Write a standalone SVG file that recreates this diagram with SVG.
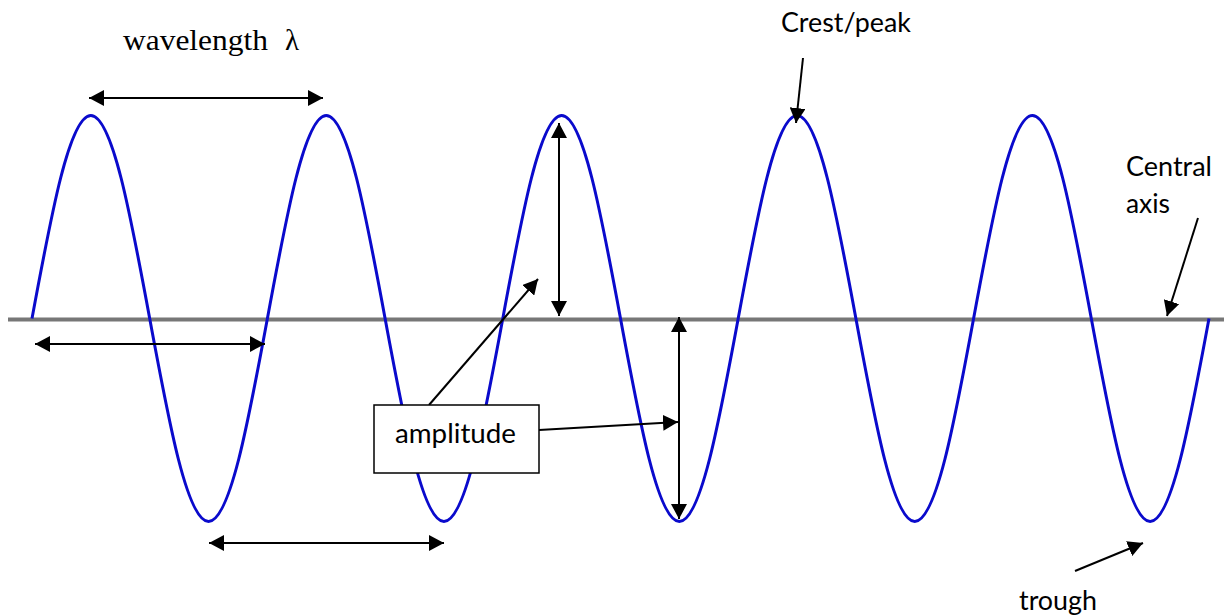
<svg xmlns="http://www.w3.org/2000/svg" width="1224" height="616" viewBox="0 0 1224 616">
<style>
.lbl{font-family:Lato,"Open Sans","Liberation Sans",sans-serif;font-size:26px;fill:#000}
.serif{font-family:"Liberation Serif","Times New Roman",serif;font-size:29px;fill:#000}
.arr{stroke:#000;stroke-width:2;fill:none}
.dbl{marker-start:url(#ah);marker-end:url(#ah)}
.one{marker-end:url(#ah)}
</style>
<defs>
<marker id="ah" markerUnits="userSpaceOnUse" markerWidth="16" markerHeight="16" refX="15" refY="8" orient="auto-start-reverse" viewBox="0 0 16 16">
<path d="M0,0 L15,8 L0,16 z" fill="#000"/>
</marker>
</defs>
<rect width="1224" height="616" fill="#fff"/>
<g id="axis">
<line x1="8" y1="319.5" x2="1224" y2="319.5" stroke="#777" stroke-width="4"/>
</g>
<g id="wave">
<path fill="none" stroke="#0a0acc" stroke-width="3" d="M32,318.5 c19.19,-104 37.55,-203 58.85,-203 s39.66,99 58.85,203 s37.55,203 58.85,203 s39.66,-99 58.85,-203
 s37.55,-203 58.85,-203 s39.66,99 58.85,203 s37.55,203 58.85,203 s39.66,-99 58.85,-203
 s37.55,-203 58.85,-203 s39.66,99 58.85,203 s37.55,203 58.85,203 s39.66,-99 58.85,-203
 s37.55,-203 58.85,-203 s39.66,99 58.85,203 s37.55,203 58.85,203 s39.66,-99 58.85,-203
 s37.55,-203 58.85,-203 s39.66,99 58.85,203 s37.55,203 58.85,203 s39.66,-99 58.85,-203"/>
</g>
<g id="connectors">
<line class="arr dbl" x1="89" y1="98" x2="323" y2="98"/>
<line class="arr dbl" x1="35" y1="344" x2="265" y2="344"/>
<line class="arr dbl" x1="209" y1="543" x2="444" y2="543"/>
<line class="arr dbl" x1="559" y1="123" x2="559" y2="316"/>
<line class="arr dbl" x1="679" y1="317" x2="679" y2="519"/>
<line class="arr one" x1="429" y1="405" x2="538" y2="279"/>
<line class="arr one" x1="539" y1="430" x2="678" y2="422"/>
<line class="arr one" x1="803" y1="58" x2="796" y2="123"/>
<line class="arr one" x1="1198" y1="218" x2="1167" y2="316"/>
<line class="arr one" x1="1075" y1="571" x2="1143" y2="543"/>
</g>
<g id="amplitude">
<rect x="374" y="405" width="165" height="68" fill="#fff" stroke="#000" stroke-width="1.5"/>
<text class="lbl" x="395" y="443" textLength="121" lengthAdjust="spacingAndGlyphs">amplitude</text>
</g>
<g id="wavelength">
<text class="serif" x="123" y="50" textLength="145" lengthAdjust="spacingAndGlyphs">wavelength</text>
<text class="serif" x="285" y="50">λ</text>
</g>
<g id="crest">
<text class="lbl" x="781" y="32" textLength="130" lengthAdjust="spacingAndGlyphs">Crest/peak</text>
</g>
<g id="central-axis">
<text class="lbl" x="1126" y="176" textLength="86" lengthAdjust="spacingAndGlyphs">Central</text>
<text class="lbl" x="1126" y="213" textLength="44" lengthAdjust="spacingAndGlyphs">axis</text>
</g>
<g id="trough">
<text class="lbl" x="1019" y="610" textLength="78" lengthAdjust="spacingAndGlyphs">trough</text>
</g>
</svg>
